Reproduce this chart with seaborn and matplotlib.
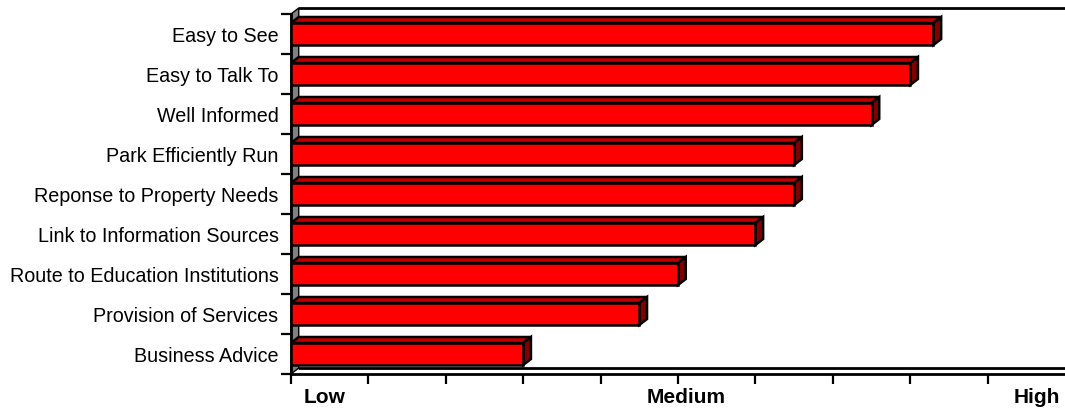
import matplotlib
matplotlib.use("Agg")
import matplotlib.pyplot as plt
from matplotlib.patches import Polygon
import seaborn as sns
import pandas as pd

categories = [
    "Easy to See",
    "Easy to Talk To",
    "Well Informed",
    "Park Efficiently Run",
    "Reponse to Property Needs",
    "Link to Information Sources",
    "Route to Education Institutions",
    "Provision of Services",
    "Business Advice",
]
scores = [8.3, 8.0, 7.5, 6.5, 6.5, 6.0, 5.0, 4.5, 3.0]
scale_labels = ["Low", "Medium", "High"]
scale_label_pos = [0.44, 5.1, 9.64]

sns.set_theme(style="white")
plt.rcParams["font.family"] = ["Liberation Sans", "DejaVu Sans"]

df = pd.DataFrame({"item": categories, "score": scores})

fig = plt.figure(figsize=(10.65, 4.11), dpi=100)
W, H = 1065, 411
ax = fig.add_axes([291 / W, (H - 374) / H, 774 / W, 360 / H])

FRONT = "#FF0000"
TOP = "#C00000"
SIDE = "#800000"
DX, DY = 0.1, 0.15  # depth offset in data units
LW = 1.8

sns.barplot(data=df, x="score", y="item", orient="h", color=FRONT,
            saturation=1, width=0.55, edgecolor="black", linewidth=LW,
            ax=ax, zorder=3)

ax.set_xlim(0, 10)
ax.set_ylim(8.5, -0.5)

# 3D top and side faces of each bar
for p in list(ax.patches):
    x0, y0 = p.get_x(), p.get_y()
    w, h = p.get_width(), p.get_height()
    x1 = x0 + w
    ytop, ybot = min(y0, y0 + h), max(y0, y0 + h)
    top = Polygon([(x0, ytop), (x0 + DX, ytop - DY), (x1 + DX, ytop - DY), (x1, ytop)],
                  closed=True, facecolor=TOP, edgecolor="black", linewidth=LW, zorder=2.9)
    side = Polygon([(x1, ytop), (x1 + DX, ytop - DY), (x1 + DX, ybot - DY), (x1, ybot)],
                   closed=True, facecolor=SIDE, edgecolor="black", linewidth=LW, zorder=2.9)
    ax.add_patch(top)
    ax.add_patch(side)

# left wall, floor edge and back wall top
wall = Polygon([(0, -0.5), (DX, -0.5 - DY), (DX, 8.5 - DY), (0, 8.5)], closed=True,
               facecolor="#808080", edgecolor="black", linewidth=1.0, zorder=1, clip_on=False)
ax.add_patch(wall)
ax.plot([DX, 10], [-0.5 - DY, -0.5 - DY], color="black", lw=2, clip_on=False, zorder=1)
ax.plot([DX, 10], [8.5 - DY, 8.5 - DY], color="black", lw=2, clip_on=False, zorder=1)

for s in ["top", "right"]:
    ax.spines[s].set_visible(False)
for s in ["left", "bottom"]:
    ax.spines[s].set_color("black")
    ax.spines[s].set_linewidth(2)

# y: labels at centres, tick marks at row boundaries
ax.set_yticks(range(len(categories)))
ax.set_yticklabels(categories, fontsize=14.2, color="black")
ax.set_yticks([i - 0.5 for i in range(len(categories) + 1)], minor=True)
ax.tick_params(axis="y", which="major", left=True, length=0, pad=9)
ax.tick_params(axis="y", which="minor", left=True, length=7, width=1.6,
               color="black", direction="out")

# x: plain tick marks, scale words as minor labels
ax.set_xticks(range(10))
ax.set_xticklabels([""] * 10)
ax.set_xticks(scale_label_pos, minor=True)
ax.set_xticklabels(scale_labels, minor=True, fontsize=15, fontweight="bold", color="black")
ax.tick_params(axis="x", which="major", bottom=True, length=7, width=1.6,
               color="black", direction="out")
ax.tick_params(axis="x", which="minor", bottom=True, length=0, pad=10)

ax.set_xlabel("")
ax.set_ylabel("")
ax.grid(False)

fig.savefig("out.png", dpi=100)
